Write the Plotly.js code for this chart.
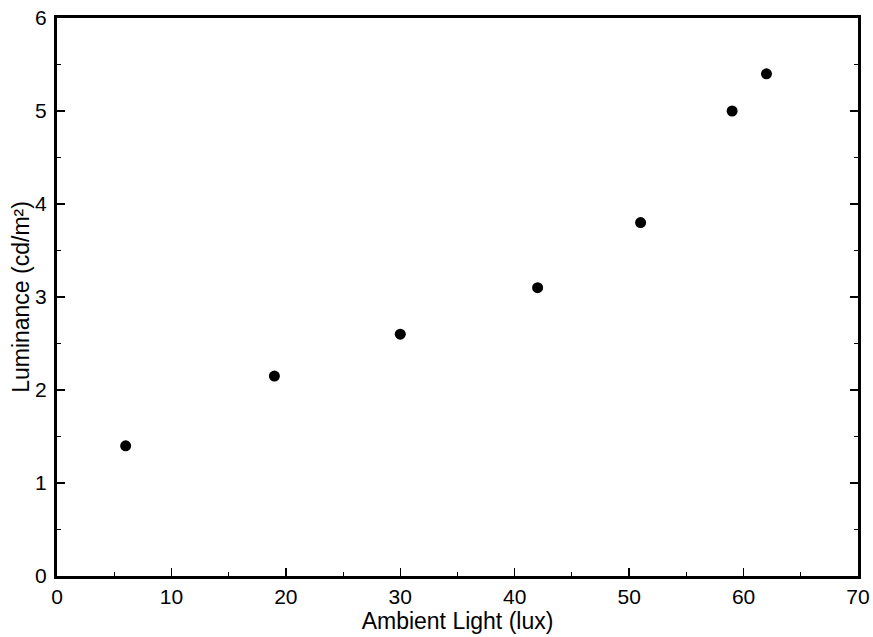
<!DOCTYPE html>
<html><head><meta charset="utf-8">
<script src="https://cdn.plot.ly/plotly-3.0.1.min.js"></script>
<style>body{margin:0;background:#fff}#chart{width:873px;height:637px}</style>
</head><body><div id="chart"></div>
<script>
const ambientLight = [6, 19, 30, 42, 51, 59, 62];
const luminance = [1.4, 2.15, 2.6, 3.1, 3.8, 5.0, 5.4];
const xTitle = 'Ambient Light (lux)';
const yTitle = 'Luminance (cd/m²)';

const fam = 'Liberation Sans, Arial, Helvetica, sans-serif';
const tickFont = {family: fam, size: 21, color: '#000'};
const titleFont = {family: fam, size: 23, color: '#000'};
const data = [{
  x: ambientLight, y: luminance, type: 'scatter', mode: 'markers',
  marker: {color: '#000', size: 11}
}];
const layout = {
  width: 873, height: 637,
  margin: {l: 57, r: 15, t: 18, b: 61},
  paper_bgcolor: '#fff', plot_bgcolor: '#fff',
  font: tickFont, showlegend: false,
  xaxis: {
    range: [0, 70], dtick: 10, ticks: 'inside', ticklen: 8, tickwidth: 1.5, tickcolor: '#000',
    showline: true, linewidth: 3, linecolor: '#000', mirror: true,
    showgrid: false, zeroline: false,
    minor: {dtick: 5, ticks: 'inside', ticklen: 4, tickwidth: 1, tickcolor: '#000'},
    tickfont: tickFont,
    title: {text: xTitle, font: titleFont, standoff: 0}
  },
  yaxis: {
    range: [0, 6], dtick: 1, ticks: 'inside', ticklen: 8, tickwidth: 1.5, tickcolor: '#000',
    showline: true, linewidth: 3, linecolor: '#000', mirror: 'ticks',
    showgrid: false, zeroline: false, ticklabelstandoff: 3,
    minor: {dtick: 0.5, ticks: 'inside', ticklen: 4, tickwidth: 1, tickcolor: '#000'},
    tickfont: tickFont,
    title: {text: yTitle, font: titleFont, standoff: 0}
  }
};
Plotly.newPlot('chart', data, layout, {displayModeBar: false, staticPlot: true});
</script></body></html>
